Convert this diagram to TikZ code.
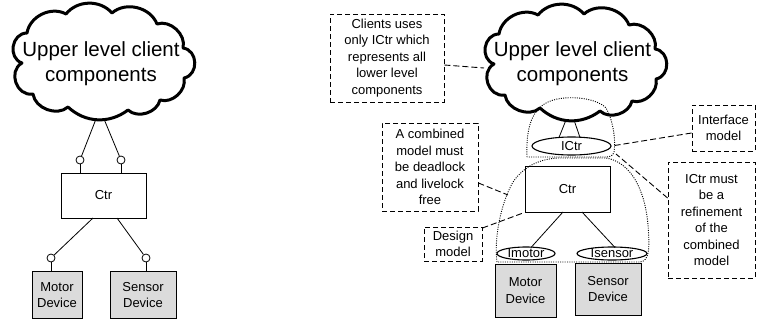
\documentclass[tikz,border=0pt]{standalone}
\usepackage{fontspec}
\setmainfont{Liberation Sans}
\usetikzlibrary{shapes.geometric}

\tikzset{
  cloudline/.style={draw, line width=3pt, line join=round},
  cloudtext/.style={font=\fontsize{20.5}{25}\selectfont, align=center, inner sep=0pt},
  comp/.style={draw, line width=0.9pt, fill=white, inner sep=0pt, align=center,
    font=\fontsize{13}{16.5}\selectfont},
  device/.style={comp, fill=black!14},
  port/.style={ellipse, draw, line width=1.1pt, inner sep=0pt, font=\fontsize{13}{15}\selectfont},
  req/.style={circle, draw, line width=0.8pt, fill=white, inner sep=0pt, minimum size=8pt},
  wire/.style={line width=0.8pt},
  note/.style={draw, dashed, dash pattern=on 5pt off 3pt, line width=0.9pt, inner sep=0pt,
    align=center, font=\fontsize{13}{16.4}\selectfont},
  noteline/.style={dashed, dash pattern=on 6pt off 3pt, line width=0.9pt},
  region/.style={dash pattern=on 1pt off 1.3pt, line width=0.9pt},
  side/.style={bend left=80, looseness=1.3},
}

% outline of the "upper level client components" cloud, drawn in local coordinates
\newcommand\puffcloud{%
  \draw[cloudline] (27,33) to[bend left=55] (66,14) to[bend left=50] (112,13)
    to[bend left=55] (157,24) to[bend left=62] (183,48) to[side] (184,78)
    to[bend left=60] (160,100) to[bend left=60] (128,110) to[bend left=40] (68,107)
    to[bend left=62] (33,94) to[side] (22,63) to[side] cycle;}

\begin{document}
\begin{tikzpicture}[x=1pt, y=-1pt]
\useasboundingbox (0,0) rectangle (757,324);

% ---------- left: plain component view ----------
\puffcloud
\node[cloudtext] (lcloud) at (101,64) {Upper level client\\components};

\node[comp, minimum width=85pt, minimum height=45pt] (lctr) at (103.5,195.5) {Ctr};
\node[device, minimum width=50pt, minimum height=47pt] (lmotor) at (57,295) {Motor\\Device};
\node[device, minimum width=66pt, minimum height=47pt] (lsensor) at (143,295) {Sensor\\Device};

\node[req] (lreq1) at (80,160) {};
\node[req] (lreq2) at (121,160) {};
\node[req] (lreq3) at (51,258) {};
\node[req] (lreq4) at (146,258) {};

\coordinate (lcb1) at (96,119);
\coordinate (lcb2) at (104,119);
\coordinate (lct1) at (93,218);
\coordinate (lct2) at (117,218);

\draw[wire] (lcb1) -- (lreq1);
\draw[wire] (lcb2) -- (lreq2);
\draw[wire] (lreq1) -- (lreq1 |- lctr.north);
\draw[wire] (lreq2) -- (lreq2 |- lctr.north);
\draw[wire] (lct1) -- (lreq3);
\draw[wire] (lct2) -- (lreq4);
\draw[wire] (lreq3) -- (lreq3 |- lmotor.north);
\draw[wire] (lreq4) -- (lreq4 |- lsensor.north);

% ---------- right: interface / design model view ----------
\begin{scope}[shift={(472,1)}]
  \puffcloud
\end{scope}
\node[cloudtext] (rcloud) at (572.5,63.5) {Upper level client\\components};

\node[port, minimum width=79pt, minimum height=18pt] (ictr) at (571.5,146) {ICtr};
\node[comp, minimum width=85pt, minimum height=46pt] (rctr) at (567.5,189) {Ctr};
\node[port, minimum width=58pt, minimum height=13pt] (imotor) at (526,253.5) {Imotor};
\node[port, minimum width=70pt, minimum height=13pt] (isensor) at (612,253.5) {Isensor};
\node[device, minimum width=61pt, minimum height=53pt] (rmotor) at (525.5,290.5) {Motor\\Device};
\node[device, minimum width=66pt, minimum height=52pt] (rsensor) at (608,289) {Sensor\\Device};

\coordinate (rcb1) at (566,120);
\coordinate (rcb2) at (574,120);
\coordinate (ict1) at (559,137.5);
\coordinate (ict2) at (580,137.5);
\coordinate (rct1) at (563,212);
\coordinate (rct2) at (582,212);
\coordinate (imt) at (531,247.5);
\coordinate (ist) at (615,247.5);

\draw[wire] (rcb1) -- (ict1);
\draw[wire] (rcb2) -- (ict2);
\draw[wire] (rct1) -- (imt);
\draw[wire] (rct2) -- (ist);

% interface model region
\draw[region] (527,157) .. controls (526,132) and (530,112) .. (546,103)
  .. controls (562,94) and (596,97) .. (606,108)
  .. controls (613,120) and (616,140) .. (614,152)
  .. controls (613,156) and (610,157) .. (605,157) -- cycle;
% design model region
\draw[region] (497,262) .. controls (494,240) and (500,205) .. (513,182)
  .. controls (524,166) and (540,159) .. (558,158) -- (606,158)
  .. controls (631,162) and (645,190) .. (648,225)
  .. controls (650,250) and (649,261) .. (640,262) -- cycle;

% annotations
\node[note, minimum width=114pt, minimum height=88pt] (clientsnote) at (387,58)
  {Clients uses\\only ICtr which\\represents all\\lower level\\components};
\node[note, minimum width=96pt, minimum height=88pt] (combinednote) at (430,167)
  {A combined\\model must\\be deadlock\\and livelock\\free};
\node[note, minimum width=58pt, minimum height=34pt] (designnote) at (453,244)
  {Design\\model};
\node[note, minimum width=63pt, minimum height=46pt] (interfacenote) at (723.5,128)
  {Interface\\model};
\node[note, minimum width=87pt, minimum height=116pt] (refinenote) at (711.5,220)
  {ICtr must\\be a\\refinement\\of the\\combined\\model};

\coordinate (cloudedge) at (484,68);
\coordinate (designedge) at (508,195);
\coordinate (ictredge) at (616,154);

\draw[noteline] ([yshift=-7pt]clientsnote.east) -- (cloudedge);
\draw[noteline] ([yshift=-16pt]combinednote.east) -- (designedge);
\draw[noteline] ([yshift=16pt]designnote.east) -- (rctr.south west);
\draw[noteline] ([yshift=-5pt]interfacenote.west) -- (ictr.east);
\draw[noteline] ([yshift=22pt]refinenote.west) -- (ictredge);
\end{tikzpicture}
\end{document}
